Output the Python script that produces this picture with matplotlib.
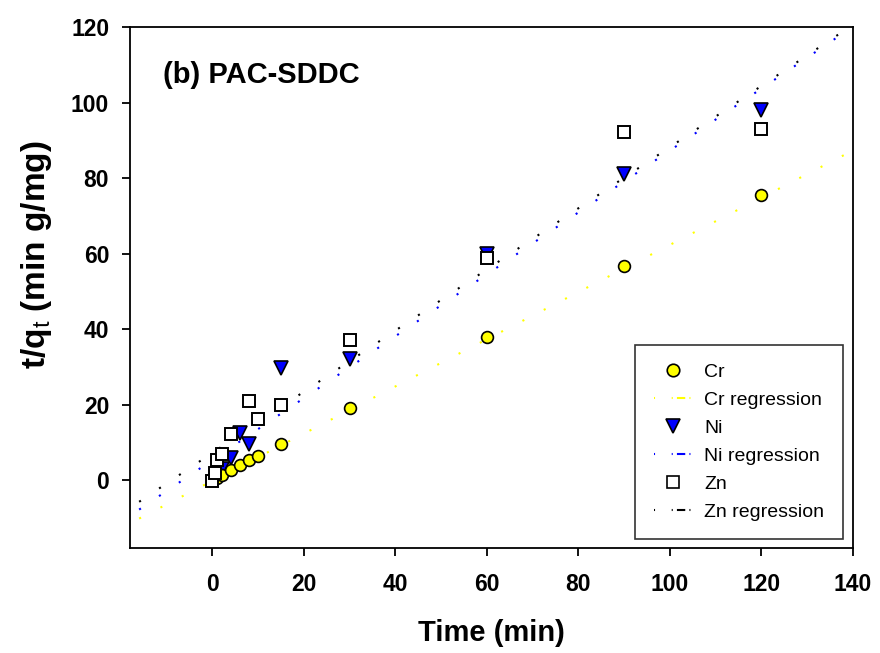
import matplotlib
matplotlib.use("Agg")
import matplotlib.pyplot as plt
from matplotlib.lines import Line2D
import numpy as np

plt.rcParams['font.family'] = ['Liberation Sans', 'DejaVu Sans']
plt.rcParams['mathtext.fontset'] = 'custom'
plt.rcParams['mathtext.rm'] = 'Liberation Sans'
plt.rcParams['mathtext.bf'] = 'Liberation Sans:bold'

# Data
cr_t = [1, 2, 4, 6, 8, 10, 15, 30, 60, 90, 120]
cr_q = [0.6, 1.3, 2.6, 4.0, 5.3, 6.5, 9.5, 19.0, 37.9, 56.6, 75.4]

ni_t = [1, 2, 4, 6, 8, 15, 30, 60, 90, 120]
ni_q = [1.6, 3.0, 5.9, 12.5, 9.6, 29.8, 32.0, 59.8, 81.0, 98.0]

zn_t = [0, 0.5, 1, 2, 4, 8, 10, 15, 30, 60, 90, 120]
zn_q = [-0.2, 1.9, 5.3, 7.0, 12.1, 21.0, 16.2, 20.0, 37.1, 58.7, 92.3, 93.0]

# regression (slope, intercept) of t/qt vs t
cr_fit = (0.625, -0.2)
ni_fit = (0.820, 5.3)
zn_fit = (0.810, 7.2)
fit_range = [-16, 140]

x_ticks = [0, 20, 40, 60, 80, 100, 120, 140]
y_ticks = [0, 20, 40, 60, 80, 100, 120]

fig = plt.figure(figsize=(8.8, 6.53), dpi=100)
ax = fig.add_axes([130/880, 105/653, 723/880, 521/653])

xf = np.linspace(fit_range[0], fit_range[1], 400)
dash = (1, 10.5)
ax.plot(xf, cr_fit[0]*xf + cr_fit[1], color='#ffff00', lw=1.5, dashes=dash, zorder=1)
ax.plot(xf, ni_fit[0]*xf + ni_fit[1], color='#0000ff', lw=1.5, dashes=dash, zorder=1)
ax.plot(xf, zn_fit[0]*xf + zn_fit[1], color='black', lw=1.5, dashes=dash, zorder=1)

ax.plot(ni_t, ni_q, 'v', ms=10.5, mfc='#0000ff', mec='black', mew=1.2, zorder=3)
ax.plot(cr_t, cr_q, 'o', ms=8.5, mfc='#ffff00', mec='black', mew=1.2, zorder=4)
ax.plot(zn_t, zn_q, 's', ms=8.5, mfc='white', mec='black', mew=1.4, zorder=5)

ax.set_xlim(-18, 140)
ax.set_ylim(-18, 120)
ax.set_xticks(x_ticks)
ax.set_yticks(y_ticks)
ax.tick_params(direction='out', length=6, width=1.3, labelsize=16.5, top=False, right=False)
ax.tick_params(axis='x', pad=12)
ax.tick_params(axis='y', pad=9)
for lab in ax.get_xticklabels() + ax.get_yticklabels():
    lab.set_fontweight('bold')
for s in ax.spines.values():
    s.set_linewidth(1.3)

ax.set_xlabel('Time (min)', fontsize=21, fontweight='bold', va='center')
ax.xaxis.set_label_coords(0.5, (548 - 633) / 521)
ax.set_ylabel(r'$\mathbf{t/q}_{\mathrm{t}}$ (min g/mg)', fontsize=24, fontweight='bold', va='center')
ax.yaxis.set_label_coords((36 - 130) / 723, (548 - 255) / 521)

fig.text(163/880, 1 - 75/653, '(b) PAC-SDDC', fontsize=21, fontweight='bold',
         va='center', ha='left')

leg_dash = (0.5, 8, 0.5, 2, 4, 2)
handles = [
    Line2D([], [], ls='none', marker='o', ms=9, mfc='#ffff00', mec='black', mew=1.2),
    Line2D([], [], color='#ffff00', lw=1.5, dashes=leg_dash),
    Line2D([], [], ls='none', marker='v', ms=10, mfc='#0000ff', mec='black', mew=1.2),
    Line2D([], [], color='#0000ff', lw=1.5, dashes=leg_dash),
    Line2D([], [], ls='none', marker='s', ms=9, mfc='white', mec='black', mew=1.2),
    Line2D([], [], color='black', lw=1.5, dashes=leg_dash),
]
labels = ['Cr', 'Cr regression', 'Ni', 'Ni regression', 'Zn', 'Zn regression']
leg = ax.legend(handles, labels, loc='lower right', bbox_to_anchor=(0.986, 0.017),
                fontsize=14, frameon=True, fancybox=False, edgecolor='black',
                handlelength=2.0, handletextpad=0.6, labelspacing=0.53,
                borderpad=0.95, borderaxespad=0)
leg.get_frame().set_linewidth(1.2)

fig.savefig('out.png', dpi=100)
